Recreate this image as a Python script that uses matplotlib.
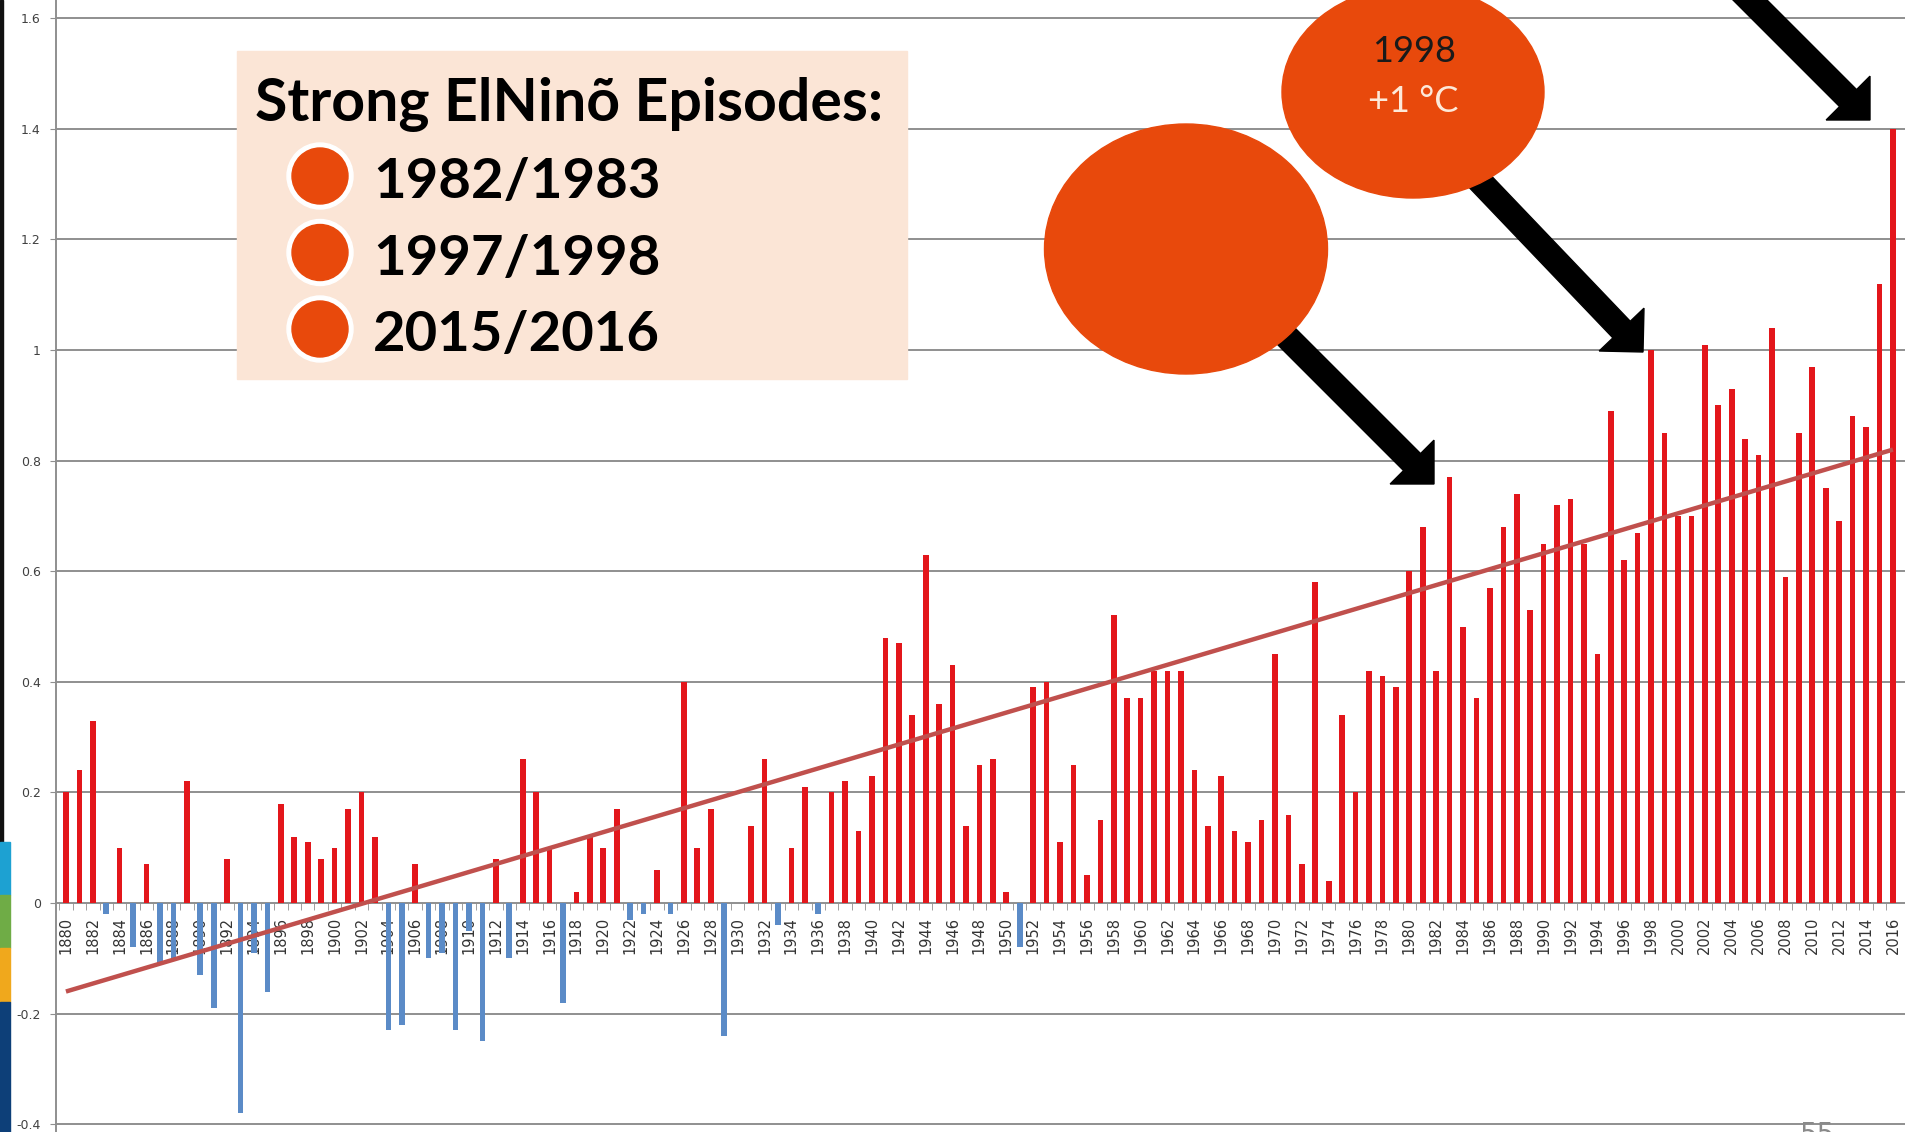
import numpy as np
import matplotlib
matplotlib.use("Agg")
import matplotlib.pyplot as plt
from matplotlib.patches import Rectangle, Ellipse, Circle, FancyArrow

# yearly anomaly values, 1880 - 2016
years = list(range(1880, 2017))
anomaly = [
    0.20, 0.24, 0.33, -0.02, 0.10, -0.08, 0.07, -0.11, -0.10, 0.22,    # 1880s
    -0.13, -0.19, 0.08, -0.38, -0.09, -0.16, 0.18, 0.12, 0.11, 0.08,   # 1890s
    0.10, 0.17, 0.20, 0.12, -0.23, -0.22, 0.07, -0.10, -0.09, -0.23,   # 1900s
    -0.05, -0.25, 0.08, -0.10, 0.26, 0.20, 0.10, -0.18, 0.02, 0.12,    # 1910s
    0.10, 0.17, -0.03, -0.02, 0.06, -0.02, 0.40, 0.10, 0.17, -0.24,    # 1920s
    0.00, 0.14, 0.26, -0.04, 0.10, 0.21, -0.02, 0.20, 0.22, 0.13,      # 1930s
    0.23, 0.48, 0.47, 0.34, 0.63, 0.36, 0.43, 0.14, 0.25, 0.26,        # 1940s
    0.02, -0.08, 0.39, 0.40, 0.11, 0.25, 0.05, 0.15, 0.52, 0.37,       # 1950s
    0.37, 0.42, 0.42, 0.42, 0.24, 0.14, 0.23, 0.13, 0.11, 0.15,        # 1960s
    0.45, 0.16, 0.07, 0.58, 0.04, 0.34, 0.20, 0.42, 0.41, 0.39,        # 1970s
    0.60, 0.68, 0.42, 0.77, 0.50, 0.37, 0.57, 0.68, 0.74, 0.53,        # 1980s
    0.65, 0.72, 0.73, 0.65, 0.45, 0.89, 0.62, 0.67, 1.00, 0.85,        # 1990s
    0.70, 0.70, 1.01, 0.90, 0.93, 0.84, 0.81, 1.04, 0.59, 0.85,        # 2000s
    0.97, 0.75, 0.69, 0.88, 0.86, 1.12, 1.40,                          # 2010s
]

# the linear trend line, ends
trend_years = [1880, 2016]
trend_values = [-0.16, 0.82]

y_ticks = [-0.4, -0.2, 0, 0.2, 0.4, 0.6, 0.8, 1, 1.2, 1.4, 1.6]
y_tick_labels = ["-0.4", "-0.2", "0", "0.2", "0.4", "0.6", "0.8", "1", "1.2", "1.4", "1.6"]

legend_title = "Strong ElNinõ Episodes:"
episodes = ["1982/1983", "1997/1998", "2015/2016"]
bubble_year = "1998"
bubble_temp = "+1 °C"
page_number = "55"

W, H = 1905, 1132
RED = "#e3161b"
BLUE = "#5b8bc7"
ORANGE = "#e8490c"
GRID = "#8f8f8f"

fig = plt.figure(figsize=(W / 100, H / 100), dpi=100)
fig.patch.set_facecolor("white")

# overlay in pixel coordinates for the slide decorations (drawn below the chart
# labels for the left strip, above everything else via zorder on its own axes)
ov_back = fig.add_axes([0, 0, 1, 1])
ov_back.set_xlim(0, W)
ov_back.set_ylim(H, 0)
ov_back.axis("off")

# coloured strip on the left edge of the slide
ov_back.add_patch(Rectangle((0, 0), 3, 1002, color="#111111"))
for y0, y1, c in [(842, 895, "#1da1d2"), (895, 948, "#6fac46"),
                  (948, 1002, "#f0a81c"), (1002, H, "#0d3f78")]:
    ov_back.add_patch(Rectangle((0, y0), 10, y1 - y0, color=c))

# main chart axes, left spine sits at pixel 56
ax = fig.add_axes([56 / W, 0, 1 - 56 / W, 1])
ax.set_xlim(1879.26, 2016.9)
ax.set_ylim(-0.414, 1.633)

colors = [RED if v >= 0 else BLUE for v in anomaly]
ax.bar(years, anomaly, width=0.42, color=colors, zorder=3)
ax.plot(trend_years, trend_values, color="#c0504d", lw=3.2, zorder=4,
        solid_capstyle="butt")

# gridlines
for t in y_ticks:
    if t != 0:
        ax.axhline(t, color=GRID, lw=1.4, zorder=1)

for s in ["top", "right"]:
    ax.spines[s].set_visible(False)
ax.spines["left"].set_color(GRID)
ax.spines["left"].set_linewidth(1.4)
ax.spines["bottom"].set_position(("data", 0))
ax.spines["bottom"].set_color(GRID)
ax.spines["bottom"].set_linewidth(1.4)
ax.spines["bottom"].set_zorder(2)

ax.set_yticks(y_ticks)
ax.set_yticklabels(y_tick_labels, family=["Liberation Sans Narrow", "DejaVu Sans"],
                   fontsize=9, color="#404040")
ax.tick_params(axis="y", length=4, color=GRID, pad=7)

# category labels every second year, tick marks between categories
ax.set_xticks(years[::2])
ax.set_xticklabels([str(y) for y in years[::2]], rotation=90, fontsize=10.5,
                   color="#333333", family="DejaVu Sans")
ax.set_xticks([y - 0.5 for y in years], minor=True)
ax.tick_params(axis="x", which="major", length=0, pad=10)
ax.tick_params(axis="x", which="minor", length=5, color=GRID)
ax.set_facecolor("none")

ov = fig.add_axes([0, 0, 1, 1])
ov.set_xlim(0, W)
ov.set_ylim(H, 0)
ov.axis("off")

# legend box
ov.add_patch(Rectangle((237, 51), 670, 328, color="#fbe5d6", zorder=5))
ov.text(255, 121, legend_title, fontsize=42.5, fontweight="bold", family="Lato",
        color="black", va="baseline", zorder=6)
for i, lab in enumerate(episodes):
    cy = 176 + i * 76.5
    ov.add_patch(Circle((320, cy), 33, color="white", zorder=6))
    ov.add_patch(Circle((320, cy), 28, color=ORANGE, zorder=7))
    ov.text(373, cy + 22, lab, fontsize=40.5, fontweight="bold", family="Lato",
            color="black", va="baseline", zorder=7)

# arrows pointing at the El Nino years
for tx, ty, hx, hy in [(1264, 314, 1434, 484), (1450, 150, 1643, 352),
                       (1720, -30, 1870, 120)]:
    ov.add_patch(FancyArrow(tx, ty, hx - tx, hy - ty, width=24, head_width=62,
                            head_length=31, length_includes_head=True,
                            color="black", zorder=8))

# orange bubbles
ov.add_patch(Ellipse((1186, 249), 283, 250, color=ORANGE, zorder=9))
ov.add_patch(Ellipse((1413, 92), 262, 212, color=ORANGE, zorder=9))
ov.text(1414, 52, bubble_year, fontsize=26, family="Lato", color="#1a1a1a",
        ha="center", va="center", zorder=10)
ov.text(1413, 102, bubble_temp, fontsize=26, family="Lato", color="#fde9d9",
        ha="center", va="center", zorder=10)

ov.text(1800, 1121, page_number, fontsize=20, color="#8a8a8a", va="top", zorder=10)

fig.savefig("out.png", dpi=100)
